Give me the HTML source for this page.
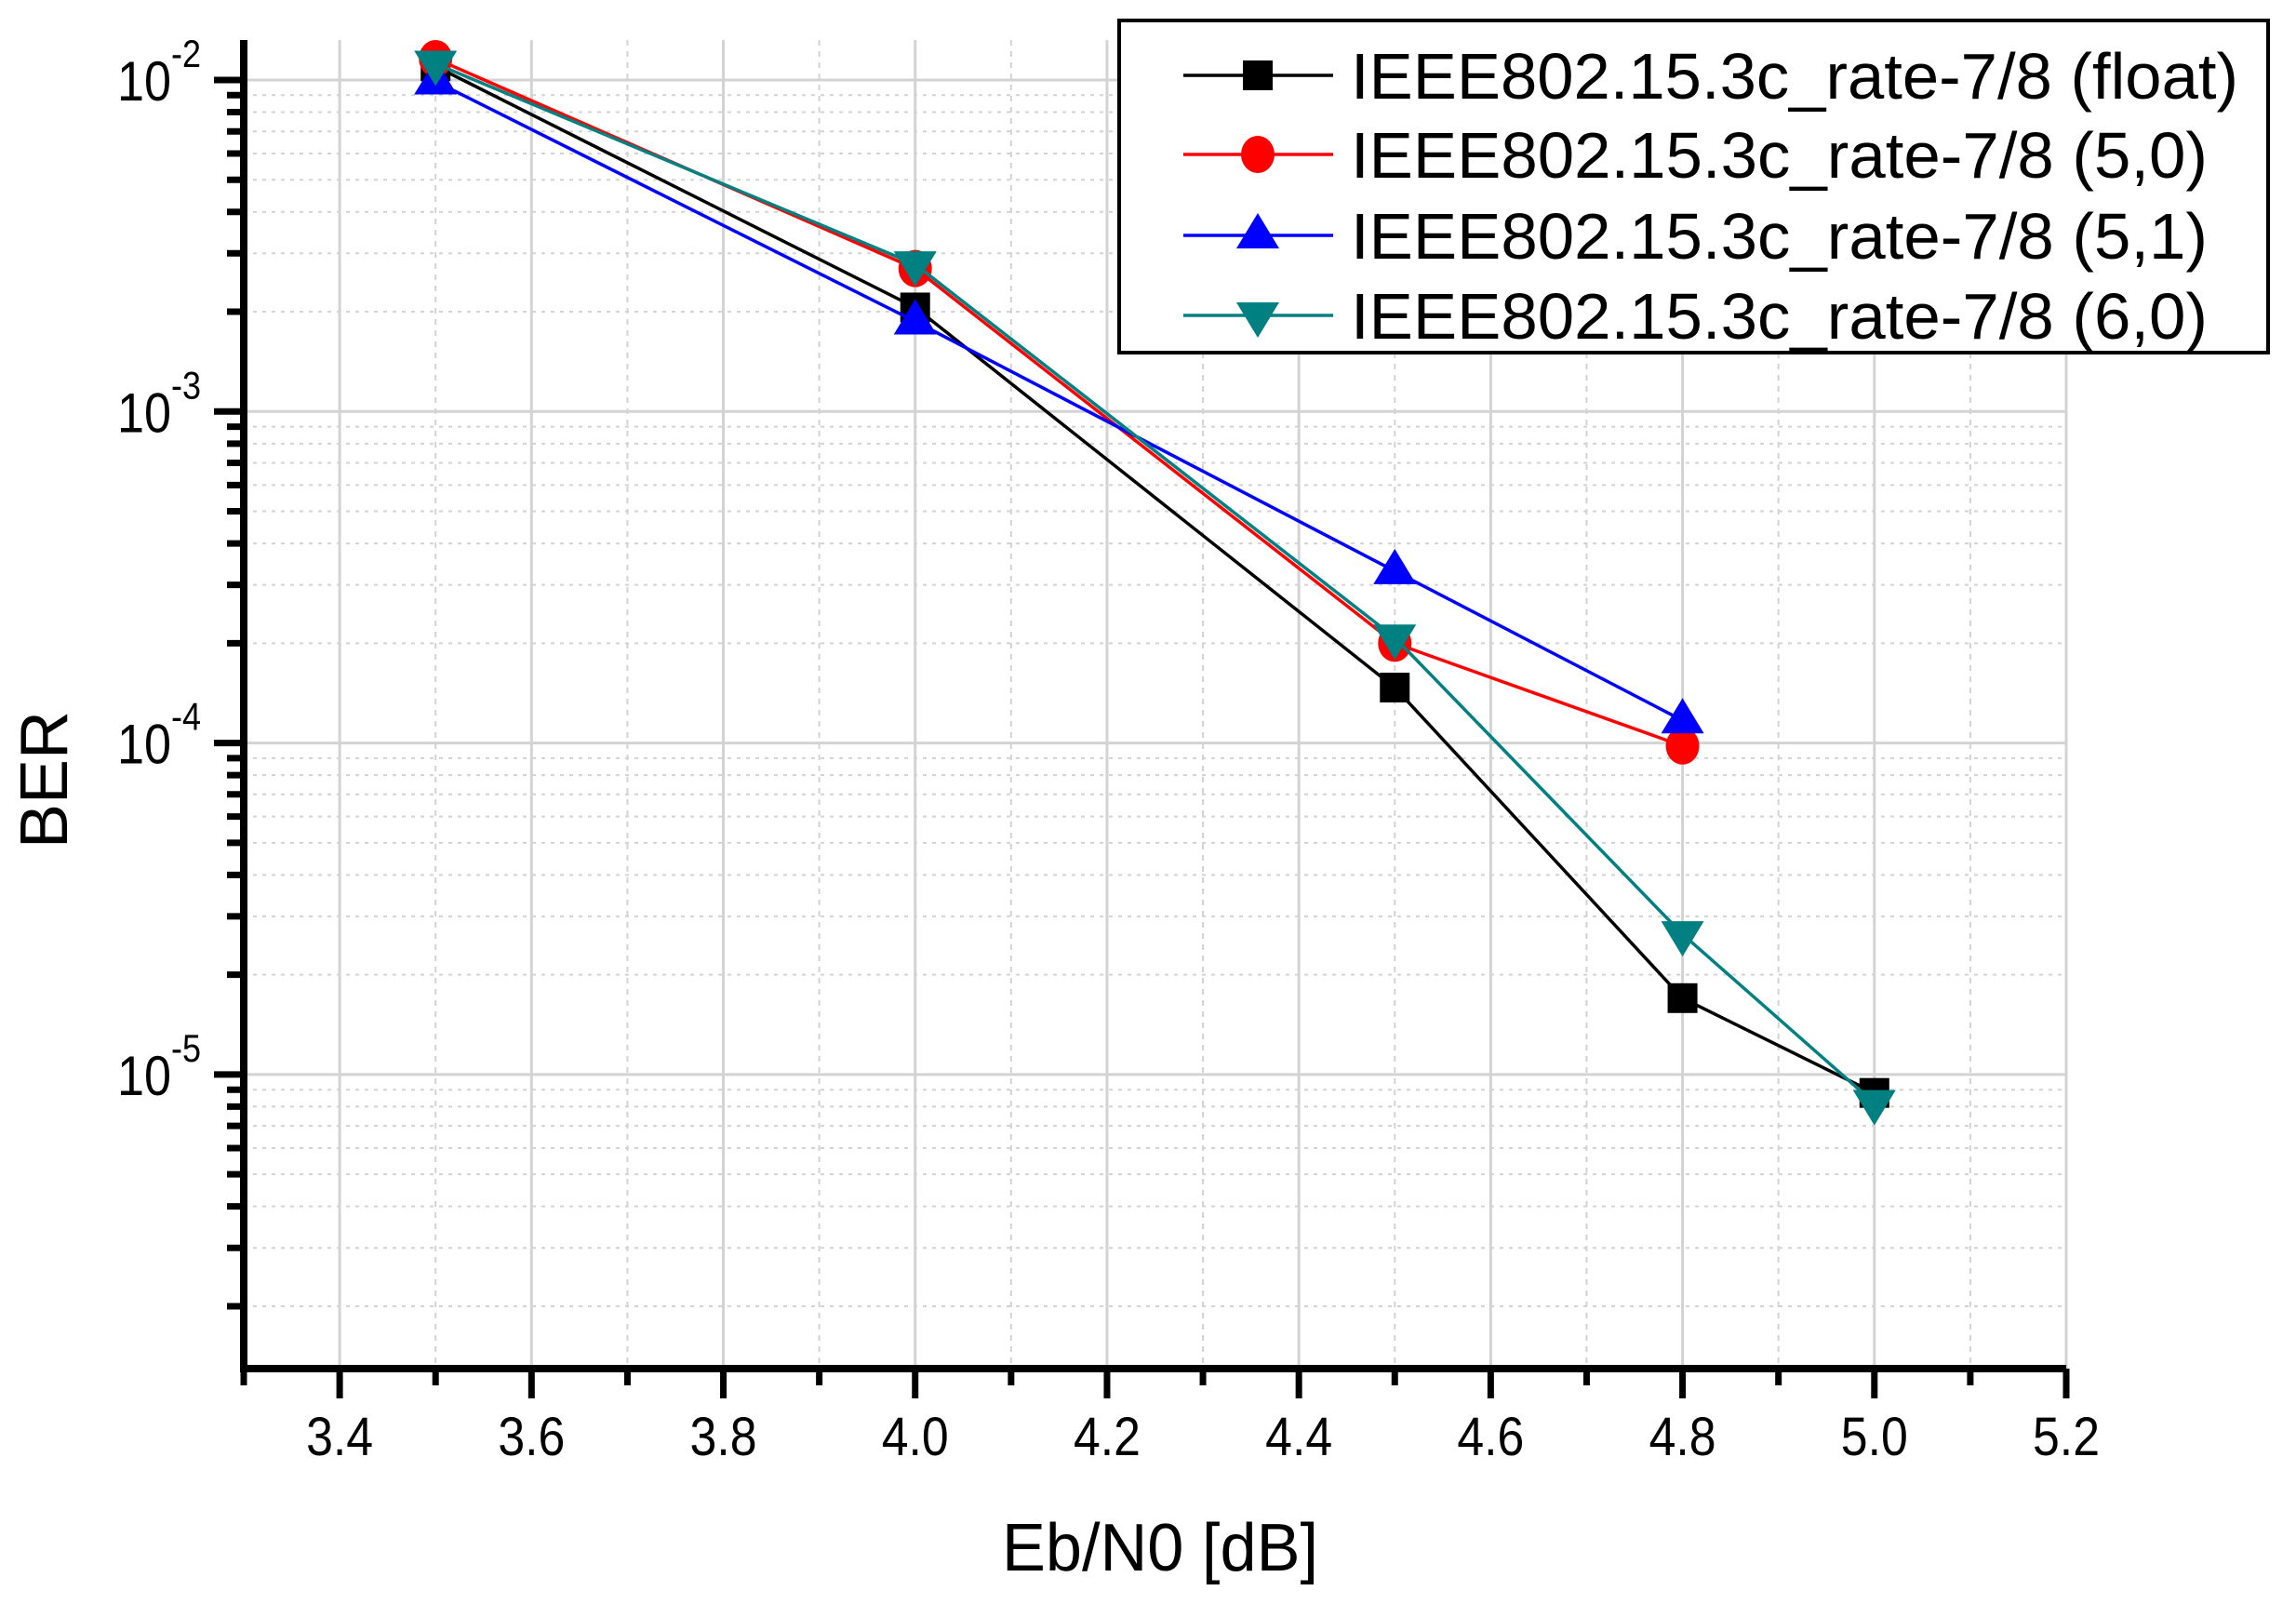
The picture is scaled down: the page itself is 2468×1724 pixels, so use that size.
<!DOCTYPE html>
<html><head><meta charset="utf-8"><style>
html,body{margin:0;padding:0;background:#fff;}
svg{display:block;font-family:"Liberation Sans",Arial,sans-serif;}
</style></head><body>
<svg id="chart" width="2468" height="1724" viewBox="0 0 2468 1724" xmlns="http://www.w3.org/2000/svg">
<g id="grid"></g>
<g id="axes"></g>
<g id="series"></g>
<text x="1247" y="1688" font-size="72" text-anchor="middle" textLength="340" lengthAdjust="spacingAndGlyphs">Eb/N0 [dB]</text>
<text x="0" y="0" font-size="72" text-anchor="middle" transform="translate(72,838) rotate(-90)">BER</text>
<g id="legend"></g>
</svg>
<script>
const xs = [3.5, 4.0, 4.5, 4.8, 5.0];
const seriesNames = ["IEEE802.15.3c_rate-7/8 (float)","IEEE802.15.3c_rate-7/8 (5,0)","IEEE802.15.3c_rate-7/8 (5,1)","IEEE802.15.3c_rate-7/8 (6,0)"];
const floatVals = [0.011, 2.06e-3, 1.47e-4, 1.7e-5, 8.8e-6];
const r50Vals = [0.0116, 2.7e-3, 2.0e-4, 9.8e-5];
const r51Vals = [0.0099, 1.87e-3, 3.3e-4, 1.17e-4];
const r60Vals = [0.0112, 2.78e-3, 2.08e-4, 2.65e-5, 8.2e-6];
const xTicks = [3.4,3.6,3.8,4.0,4.2,4.4,4.6,4.8,5.0,5.2];
const xTickLabels = ["3.4","3.6","3.8","4.0","4.2","4.4","4.6","4.8","5.0","5.2"];
const yDecades = [-2,-3,-4,-5];
const yDecadeLabels = ["-2","-3","-4","-5"];

const NS="http://www.w3.org/2000/svg";
const X0=262, XR=2221, XMIN=3.3, XMAX=5.2;
const YTOP=43, YBOT=1471, DEC=356.3, Y2=86;
function sx(v){return X0+(v-XMIN)*(XR-X0)/(XMAX-XMIN);}
function sy(v){return Y2+(-2-Math.log10(v))*DEC;}
function mk(tag,attrs,parent){const e=document.createElementNS(NS,tag);for(const k in attrs)e.setAttribute(k,attrs[k]);parent.appendChild(e);return e;}
const grid=document.getElementById('grid'), axes=document.getElementById('axes'), ser=document.getElementById('series'), leg=document.getElementById('legend');

for(let i=1;i<=19;i++){
  const v=XMIN+i*0.1;
  const x=sx(v); const major=(i%2===1);
  const l=mk('line',{x1:x,x2:x,y1:YTOP,y2:YBOT,stroke:'#d3d3d3','stroke-width':major?3:2,'stroke-dasharray':major?'':'6,6'},grid);
  
  
  const t=mk('line',{x1:x,x2:x,y1:YBOT,y2:YBOT+(major?32:18),stroke:'#000','stroke-width':7},axes);
  
  
}
for(let d=-2; d>=-6; d--){
  for(let m=1;m<=9;m++){
    const v=m*Math.pow(10,d); const y=sy(v);
    if(y<YTOP||y>YBOT-2) continue;
    const major=(m===1);
    const l=mk('line',{x1:X0,x2:XR,y1:y,y2:y,stroke:'#d3d3d3','stroke-width':major?3:2,'stroke-dasharray':major?'':'4,6'},grid);
    
    
    const t=mk('line',{x1:X0-(major?32:18),x2:X0,y1:y,y2:y,stroke:'#000','stroke-width':7},axes);
    
    
  }
}
const ya=mk('line',{x1:X0,x2:X0,y1:YTOP,y2:YBOT+3,stroke:'#000','stroke-width':8},axes);


const xa=mk('line',{x1:X0-4,x2:XR,y1:YBOT,y2:YBOT,stroke:'#000','stroke-width':8},axes);


const ys=mk('line',{x1:X0,x2:X0,y1:YBOT,y2:YBOT+18,stroke:'#000','stroke-width':7},axes);


xTicks.forEach((v,i)=>{
  const t=mk('text',{x:sx(v),y:1564,'font-size':58,'text-anchor':'middle',textLength:72,lengthAdjust:'spacingAndGlyphs'},axes);
  t.textContent=xTickLabels[i];
  
  
});
yDecades.forEach((d,i)=>{
  const y=sy(Math.pow(10,d));
  const t=mk('text',{x:184,y:y+22,'font-size':60,'text-anchor':'end',textLength:58,lengthAdjust:'spacingAndGlyphs'},axes);
  t.textContent='10';
  
  
  const s=mk('text',{x:184,y:y-14,'font-size':42,'text-anchor':'start',textLength:32,lengthAdjust:'spacingAndGlyphs'},axes);
  s.textContent=yDecadeLabels[i];
  
  
});

function marker(type,cx,cy,color,parent){
  let e;
  if(type==='square') e=mk('rect',{x:cx-16,y:cy-16,width:32,height:32,fill:color},parent);
  else if(type==='circle') e=mk('ellipse',{cx:cx,cy:cy,rx:18,ry:20,fill:color},parent);
  else if(type==='up') e=mk('polygon',{points:`${cx},${cy-24} ${cx-23},${cy+14} ${cx+23},${cy+14}`,fill:color},parent);
  else e=mk('polygon',{points:`${cx},${cy+24} ${cx-23},${cy-14} ${cx+23},${cy-14}`,fill:color},parent);
  return e;
}
const specs=[[floatVals,'#000000','square','series-float'],[r50Vals,'#ff0000','circle','series-5-0'],[r51Vals,'#0000ff','up','series-5-1'],[r60Vals,'#008080','down','series-6-0']];
specs.forEach(([vals,color,type,name])=>{
  const g=mk('g',{},ser);
  
  
  const pts=vals.map((v,i)=>sx(xs[i])+','+sy(v)).join(' ');
  const pl=mk('polyline',{points:pts,fill:'none',stroke:color,'stroke-width':3.5},g);
  
  
  vals.forEach((v,i)=>{
    const m=marker(type,sx(xs[i]),sy(v),color,g);
    
    
  });
});
const box=mk('rect',{x:1203,y:22,width:1235,height:357,fill:'#fff',stroke:'#000','stroke-width':4},leg);


const rowsY=[81,166,253,339];
specs.forEach(([vals,color,type,name],i)=>{
  const g=mk('g',{},leg);
  
  
  const y=rowsY[i];
  mk('line',{x1:1272,x2:1433,y1:y,y2:y,stroke:color,'stroke-width':3.5},g);
  marker(type,1352,y,color,g);
  const t=mk('text',{x:1452,y:y+25,'font-size':70,textLength:(i===0?954:921),lengthAdjust:'spacingAndGlyphs'},g);
  t.textContent=seriesNames[i];
});
</script>
</body></html>
